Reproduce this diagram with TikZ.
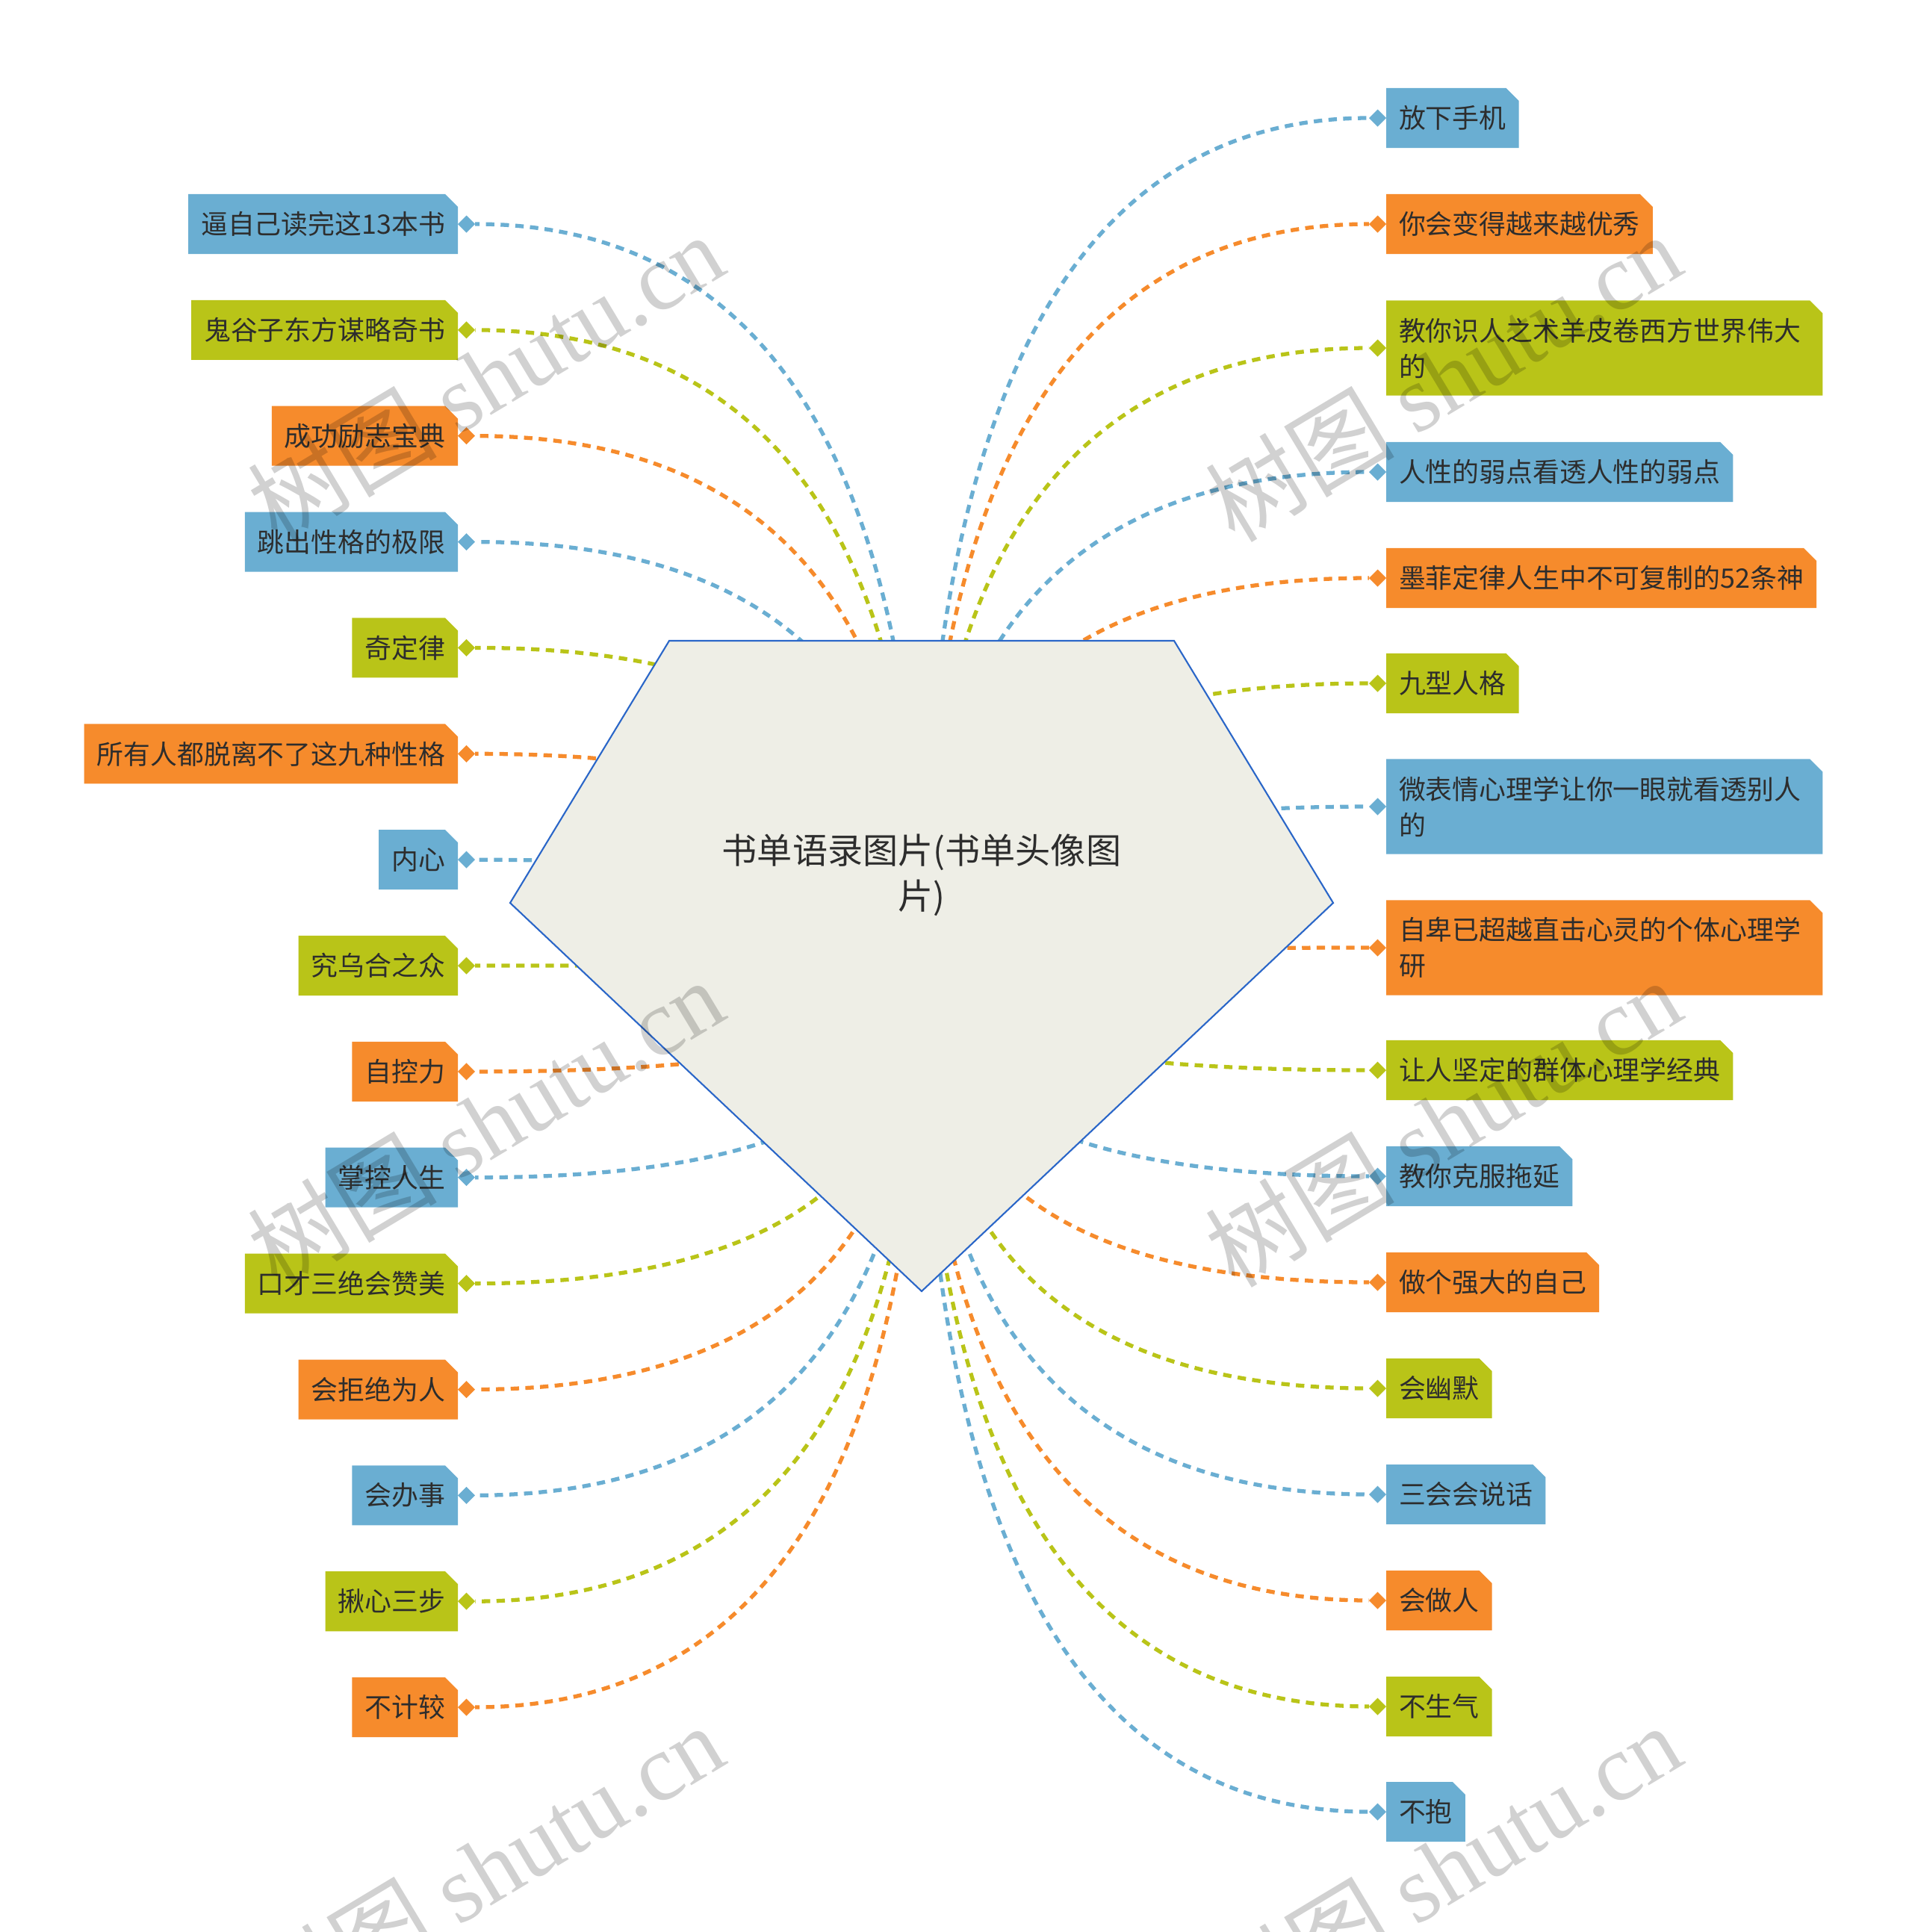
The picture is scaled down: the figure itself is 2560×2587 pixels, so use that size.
\documentclass[tikz,border=0pt]{standalone}
\usepackage{fontspec}
\setmainfont{Noto Sans CJK SC}
\newfontfamily\wmlatin{Liberation Serif}
\usetikzlibrary{positioning,shapes.geometric,calc}
\pgfdeclarelayer{background}
\pgfsetlayers{background,main}
\definecolor{cblue}{RGB}{106,174,210}
\definecolor{corange}{RGB}{246,139,44}
\definecolor{cgreen}{RGB}{185,196,24}
\definecolor{rootfill}{RGB}{238,238,230}
\definecolor{rootline}{RGB}{42,102,200}
\definecolor{ink}{RGB}{45,45,45}

\begin{document}
\begin{tikzpicture}[
  x=0.01cm,y=-0.01cm,
  leaf/.style={font=\fontsize{10.2pt}{13.66pt}\selectfont, text=ink, inner xsep=0.17cm, inner ysep=0pt, outer sep=0pt, minimum height=0.8cm,
    path picture={\fill[#1] (path picture bounding box.south west) |- ([xshift=-0.17cm]path picture bounding box.north east) -- ([yshift=-0.17cm]path picture bounding box.north east) |- cycle;}},
  tall/.style={text width=5.5cm, align=left, minimum height=1.27cm},
  dia/.style={diamond, fill=#1, inner sep=0pt, outer sep=0pt, minimum width=0.23cm, minimum height=0.23cm},
  link/.style={line width=1.5pt, dash pattern=on 3.2pt off 2.4pt,
    to path={.. controls ($(\tikztostart)!0.6667!(\tikztostart|-\tikztotarget)$) and ($(\tikztotarget)!0.6667!(\tikztostart|-\tikztotarget)$) .. (\tikztotarget)}},
  wmark/.style={font=\fontsize{36pt}{40pt}\selectfont, text=black, text opacity=0.18, rotate=31}
]
\useasboundingbox (0,0) rectangle (2560,2587);
% central topic
\filldraw[fill=rootfill, draw=rootline, line width=0.6pt] (896,858) -- (1572,858) -- (1785,1209) -- (1234,1729) -- (683,1209) -- cycle;
\node[font=\fontsize{13.4pt}{17.4pt}\selectfont, text=ink, align=center] (root) at (1234,1172) {书单语录图片(书单头像图\\片)};
\coordinate (hub) at (1234,1293);
% left branches
\node[leaf=cblue, anchor=east] (L1) at (613,300) {逼自己读完这13本书}; \node[dia=cblue, right=0pt of L1] (dL1) {};
\node[leaf=cgreen, anchor=east] (L2) at (613,441.9) {鬼谷子东方谋略奇书}; \node[dia=cgreen, right=0pt of L2] (dL2) {};
\node[leaf=corange, anchor=east] (L3) at (613,583.7) {成功励志宝典}; \node[dia=corange, right=0pt of L3] (dL3) {};
\node[leaf=cblue, anchor=east] (L4) at (613,725.6) {跳出性格的极限}; \node[dia=cblue, right=0pt of L4] (dL4) {};
\node[leaf=cgreen, anchor=east] (L5) at (613,867.4) {奇定律}; \node[dia=cgreen, right=0pt of L5] (dL5) {};
\node[leaf=corange, anchor=east] (L6) at (613,1009.3) {所有人都脱离不了这九种性格}; \node[dia=corange, right=0pt of L6] (dL6) {};
\node[leaf=cblue, anchor=east] (L7) at (613,1151.2) {内心}; \node[dia=cblue, right=0pt of L7] (dL7) {};
\node[leaf=cgreen, anchor=east] (L8) at (613,1293) {究乌合之众}; \node[dia=cgreen, right=0pt of L8] (dL8) {};
\node[leaf=corange, anchor=east] (L9) at (613,1434.9) {自控力}; \node[dia=corange, right=0pt of L9] (dL9) {};
\node[leaf=cblue, anchor=east] (L10) at (613,1576.7) {掌控人生}; \node[dia=cblue, right=0pt of L10] (dL10) {};
\node[leaf=cgreen, anchor=east] (L11) at (613,1718.6) {口才三绝会赞美}; \node[dia=cgreen, right=0pt of L11] (dL11) {};
\node[leaf=corange, anchor=east] (L12) at (613,1860.5) {会拒绝为人}; \node[dia=corange, right=0pt of L12] (dL12) {};
\node[leaf=cblue, anchor=east] (L13) at (613,2002.3) {会办事}; \node[dia=cblue, right=0pt of L13] (dL13) {};
\node[leaf=cgreen, anchor=east] (L14) at (613,2144.2) {揪心三步}; \node[dia=cgreen, right=0pt of L14] (dL14) {};
\node[leaf=corange, anchor=east] (L15) at (613,2286) {不计较}; \node[dia=corange, right=0pt of L15] (dL15) {};
% right branches
\node[leaf=cblue, anchor=west] (R1) at (1856,158) {放下手机}; \node[dia=cblue, left=0pt of R1] (dR1) {};
\node[leaf=corange, anchor=west] (R2) at (1856,300) {你会变得越来越优秀}; \node[dia=corange, left=0pt of R2] (dR2) {};
\node[leaf=cgreen, tall, anchor=west] (R3) at (1856,466) {教你识人之术羊皮卷西方世界伟大\\的}; \node[dia=cgreen, left=0pt of R3] (dR3) {};
\node[leaf=cblue, anchor=west] (R4) at (1856,632) {人性的弱点看透人性的弱点}; \node[dia=cblue, left=0pt of R4] (dR4) {};
\node[leaf=corange, anchor=west] (R5) at (1856,774) {墨菲定律人生中不可复制的52条神}; \node[dia=corange, left=0pt of R5] (dR5) {};
\node[leaf=cgreen, anchor=west] (R6) at (1856,915) {九型人格}; \node[dia=cgreen, left=0pt of R6] (dR6) {};
\node[leaf=cblue, tall, anchor=west] (R7) at (1856,1080) {微表情心理学让你一眼就看透别人\\的}; \node[dia=cblue, left=0pt of R7] (dR7) {};
\node[leaf=corange, tall, anchor=west] (R8) at (1856,1269) {自卑已超越直击心灵的个体心理学\\研}; \node[dia=corange, left=0pt of R8] (dR8) {};
\node[leaf=cgreen, anchor=west] (R9) at (1856,1433) {让人坚定的群体心理学经典}; \node[dia=cgreen, left=0pt of R9] (dR9) {};
\node[leaf=cblue, anchor=west] (R10) at (1856,1575) {教你克服拖延}; \node[dia=cblue, left=0pt of R10] (dR10) {};
\node[leaf=corange, anchor=west] (R11) at (1856,1717) {做个强大的自己}; \node[dia=corange, left=0pt of R11] (dR11) {};
\node[leaf=cgreen, anchor=west] (R12) at (1856,1859) {会幽默}; \node[dia=cgreen, left=0pt of R12] (dR12) {};
\node[leaf=cblue, anchor=west] (R13) at (1856,2001) {三会会说话}; \node[dia=cblue, left=0pt of R13] (dR13) {};
\node[leaf=corange, anchor=west] (R14) at (1856,2143) {会做人}; \node[dia=corange, left=0pt of R14] (dR14) {};
\node[leaf=cgreen, anchor=west] (R15) at (1856,2285) {不生气}; \node[dia=cgreen, left=0pt of R15] (dR15) {};
\node[leaf=cblue, anchor=west] (R16) at (1856,2426) {不抱}; \node[dia=cblue, left=0pt of R16] (dR16) {};
% connectors, behind the central topic
\begin{pgfonlayer}{background}
\draw[link, cblue] (hub) to (dL1); \draw[link, cgreen] (hub) to (dL2); \draw[link, corange] (hub) to (dL3);
\draw[link, cblue] (hub) to (dL4); \draw[link, cgreen] (hub) to (dL5); \draw[link, corange] (hub) to (dL6);
\draw[link, cblue] (hub) to (dL7); \draw[link, cgreen] (hub) to (dL8); \draw[link, corange] (hub) to (dL9);
\draw[link, cblue] (hub) to (dL10); \draw[link, cgreen] (hub) to (dL11); \draw[link, corange] (hub) to (dL12);
\draw[link, cblue] (hub) to (dL13); \draw[link, cgreen] (hub) to (dL14); \draw[link, corange] (hub) to (dL15);
\draw[link, cblue] (hub) to (dR1); \draw[link, corange] (hub) to (dR2); \draw[link, cgreen] (hub) to (dR3);
\draw[link, cblue] (hub) to (dR4); \draw[link, corange] (hub) to (dR5); \draw[link, cgreen] (hub) to (dR6);
\draw[link, cblue] (hub) to (dR7); \draw[link, corange] (hub) to (dR8); \draw[link, cgreen] (hub) to (dR9);
\draw[link, cblue] (hub) to (dR10); \draw[link, corange] (hub) to (dR11); \draw[link, cgreen] (hub) to (dR12);
\draw[link, cblue] (hub) to (dR13); \draw[link, corange] (hub) to (dR14); \draw[link, cgreen] (hub) to (dR15);
\draw[link, cblue] (hub) to (dR16);
\end{pgfonlayer}
% watermarks
\node[wmark] (wm1) at (650,505) {树图 {\wmlatin shutu.cn}};
\node[wmark] (wm2) at (1932,505) {树图 {\wmlatin shutu.cn}};
\node[wmark] (wm3) at (650,1503) {树图 {\wmlatin shutu.cn}};
\node[wmark] (wm4) at (1932,1503) {树图 {\wmlatin shutu.cn}};
\node[wmark] (wm5) at (650,2501) {树图 {\wmlatin shutu.cn}};
\node[wmark] (wm6) at (1932,2501) {树图 {\wmlatin shutu.cn}};
\end{tikzpicture}
\end{document}
